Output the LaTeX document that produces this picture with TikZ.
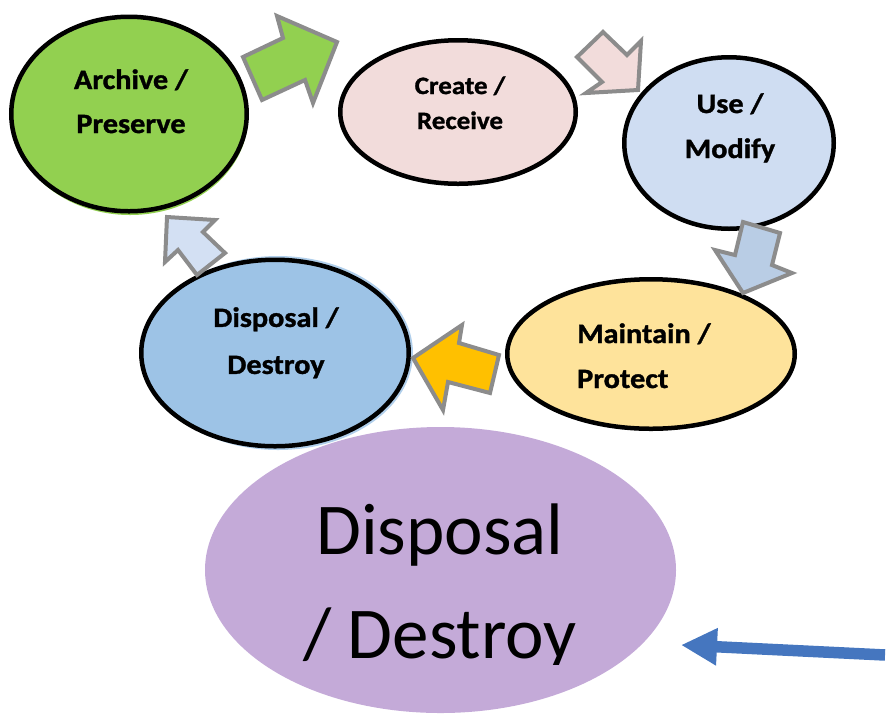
\documentclass[tikz,border=0pt]{standalone}
\usepackage{fontspec}
\setmainfont{Carlito}
\newfontfamily\calibs[FakeStretch=1.08,FakeBold=1.2]{Carlito}
\usetikzlibrary{shapes.geometric,arrows.meta}
\definecolor{cgreen}{HTML}{92D050}
\definecolor{cpink}{HTML}{F2DCDB}
\definecolor{cuse}{HTML}{CFDDF2}
\definecolor{cmaint}{HTML}{FEE39B}
\definecolor{cdisp}{HTML}{9DC3E6}
\definecolor{cpurple}{HTML}{C4AAD8}
\definecolor{corange}{HTML}{FFC000}
\definecolor{carrowblue}{HTML}{B9CDE5}
\definecolor{carrowlight}{HTML}{D3E0F3}
\definecolor{cgray}{HTML}{8C8C8C}
\definecolor{cbluearrow}{HTML}{4576BF}
\begin{document}
\begin{tikzpicture}[x=1pt,y=-1pt,
  ell/.style={ellipse, draw=black, line width=4.5pt, inner sep=0pt},
  shade/.style={ellipse, inner sep=0pt},
  lbl/.style={inner sep=0pt, align=center},
  lblfont/.style n args={2}{font=\calibs\bfseries\fontsize{#1}{#2}\selectfont},
  blk/.style={draw=cgray, line width=4pt, line join=miter}]
\useasboundingbox (0,0) rectangle (888,716);

% soft shadows
\node[shade, fill=cgreen, minimum width=236pt, minimum height=196pt] (archsh) at (130,117) {};
\node[shade, fill=cdisp!80, minimum width=270pt, minimum height=194pt] (dispsh) at (278,353) {};

% ellipses
\node[ell, fill=cgreen, minimum width=235.5pt, minimum height=194.5pt] (arch) at (129,114) {};
\node[ell, fill=cpink, minimum width=235.5pt, minimum height=143.5pt] (create) at (458,112) {};
\node[ell, fill=cuse, minimum width=209.5pt, minimum height=171.5pt] (use) at (729,143) {};
\node[ell, fill=cmaint, minimum width=287.5pt, minimum height=149.5pt] (maint) at (651,354) {};
\node[ell, fill=cdisp, minimum width=267.5pt, minimum height=186.5pt] (disp) at (275,353) {};
\node[shade, fill=cpurple, minimum width=471pt, minimum height=286pt] (big) at (440.5,570) {};

% labels
\node[lbl, lblfont={28}{44}] (archt) at (131,102.2) {\strut Archive /\\\strut Preserve};
\node[lbl, lblfont={25}{35}] (createt) at (460,104.5) {\strut Create /\\\strut Receive};
\node[lbl, lblfont={28}{45}] (uset) at (730,126.5) {\strut Use /\\\strut Modify};
\node[lbl, align=left, anchor=west, lblfont={28}{45}] (maintt) at (577,356.5) {\strut Maintain /\\\strut Protect};
\node[lbl, lblfont={28}{47}] (dispt) at (276,341) {\strut Disposal /\\\strut Destroy};
\begin{scope}
  \clip (0,0) rectangle (888,664);
  \node[lbl, font=\fontsize{73}{104}\selectfont] (bigt) at (440,585.2) {\strut Disposal\\\strut / Destroy};
\end{scope}

% block arrows
\draw[blk, fill=cgreen] (243,57) -- (283,38) -- (277,16) -- (337,42) -- (313,103) -- (305,80) -- (262,100) -- cycle;
\draw[blk, fill=cpink] (603,32) -- (627,55) -- (641,41) -- (638,90) -- (586,93) -- (602,82) -- (577,57) -- cycle;
\draw[blk, fill=carrowblue] (743,222) -- (780,233) -- (772,265) -- (792,273) -- (743,293) -- (715,250) -- (735,255) -- cycle;
\draw[blk, fill=corange] (413,358) -- (462,325) -- (459,343) -- (499,355) -- (490,393) -- (448,382) -- (443,410) -- cycle;
\draw[blk, fill=carrowlight] (167,217) -- (215,220) -- (203,232) -- (225,253) -- (197,275) -- (178,250) -- (165,262) -- cycle;

% pointer arrow
\coordinate (ptrstart) at (885,655);
\coordinate (ptrtip) at (681,645);
\draw[cbluearrow, line width=11.5pt, -{Triangle[length=36pt,width=35pt]}] (ptrstart) -- (ptrtip);
\end{tikzpicture}
\end{document}
